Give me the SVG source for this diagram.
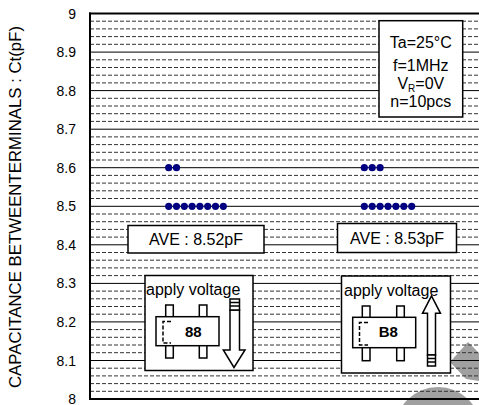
<svg xmlns="http://www.w3.org/2000/svg" width="479" height="405" viewBox="0 0 479 405">
<style>
text{font-family:"Liberation Sans",Arial,sans-serif;fill:#000}
.tick{font-size:14px;text-anchor:end}
.lbl{font-size:16px}
.mid{text-anchor:middle}
.solid{stroke:#000;stroke-width:1}
.dash{stroke:#333;stroke-width:1;stroke-dasharray:4 2}
.box{fill:#fff;stroke:#000;stroke-width:1.5}
.dot{fill:#000080}
.wm{fill:#a0a0a0}
.pkg{fill:#fff;stroke:#000;stroke-width:1.5}
</style>
<rect width="479" height="405" fill="#fff"/>
<g id="watermark">
<polygon class="wm" points="450,362 468,342 479,353 479,381 466,379"/>
<circle class="wm" cx="438" cy="430" r="43"/>
</g>
<g id="grid">
<g class="dash">
<line x1="90" x2="479" y1="21.2" y2="21.2"/><line x1="90" x2="479" y1="28.9" y2="28.9"/><line x1="90" x2="479" y1="36.6" y2="36.6"/><line x1="90" x2="479" y1="44.3" y2="44.3"/>
<line x1="90" x2="479" y1="59.8" y2="59.8"/><line x1="90" x2="479" y1="67.5" y2="67.5"/><line x1="90" x2="479" y1="75.2" y2="75.2"/><line x1="90" x2="479" y1="82.9" y2="82.9"/>
<line x1="90" x2="479" y1="98.3" y2="98.3"/><line x1="90" x2="479" y1="106" y2="106"/><line x1="90" x2="479" y1="113.7" y2="113.7"/><line x1="90" x2="479" y1="121.4" y2="121.4"/>
<line x1="90" x2="479" y1="136.9" y2="136.9"/><line x1="90" x2="479" y1="144.6" y2="144.6"/><line x1="90" x2="479" y1="152.3" y2="152.3"/><line x1="90" x2="479" y1="160" y2="160"/>
<line x1="90" x2="479" y1="175.4" y2="175.4"/><line x1="90" x2="479" y1="183.1" y2="183.1"/><line x1="90" x2="479" y1="190.8" y2="190.8"/><line x1="90" x2="479" y1="198.5" y2="198.5"/>
<line x1="90" x2="479" y1="214" y2="214"/><line x1="90" x2="479" y1="221.7" y2="221.7"/><line x1="90" x2="479" y1="229.4" y2="229.4"/><line x1="90" x2="479" y1="237.1" y2="237.1"/>
<line x1="90" x2="479" y1="252.5" y2="252.5"/><line x1="90" x2="479" y1="260.2" y2="260.2"/><line x1="90" x2="479" y1="267.9" y2="267.9"/><line x1="90" x2="479" y1="275.6" y2="275.6"/>
<line x1="90" x2="479" y1="291.1" y2="291.1"/><line x1="90" x2="479" y1="298.8" y2="298.8"/><line x1="90" x2="479" y1="306.5" y2="306.5"/><line x1="90" x2="479" y1="314.2" y2="314.2"/>
<line x1="90" x2="479" y1="329.6" y2="329.6"/><line x1="90" x2="479" y1="337.3" y2="337.3"/><line x1="90" x2="479" y1="345" y2="345"/><line x1="90" x2="479" y1="352.7" y2="352.7"/>
<line x1="90" x2="479" y1="368.2" y2="368.2"/><line x1="90" x2="479" y1="375.9" y2="375.9"/><line x1="90" x2="479" y1="383.6" y2="383.6"/><line x1="90" x2="479" y1="391.3" y2="391.3"/>
</g>
<g class="solid">
<line x1="90" x2="479" y1="52.1" y2="52.1"/><line x1="90" x2="479" y1="90.6" y2="90.6"/><line x1="90" x2="479" y1="129.2" y2="129.2"/><line x1="90" x2="479" y1="167.7" y2="167.7"/><line x1="90" x2="479" y1="206.3" y2="206.3"/><line x1="90" x2="479" y1="244.8" y2="244.8"/><line x1="90" x2="479" y1="283.4" y2="283.4"/><line x1="90" x2="479" y1="321.9" y2="321.9"/><line x1="90" x2="479" y1="360.5" y2="360.5"/>
</g>
</g>
<g id="axes">
<line x1="90" y1="12.5" x2="90" y2="400" stroke="#000" stroke-width="2"/>
<line x1="89" y1="13.5" x2="479" y2="13.5" stroke="#000" stroke-width="2"/>
<line x1="89" y1="399" x2="479" y2="399" stroke="#000" stroke-width="2"/>
<g class="tick">
<text x="76" y="18.5">9</text><text x="76" y="57">8.9</text><text x="76" y="95.6">8.8</text><text x="76" y="134.2">8.7</text><text x="76" y="172.7">8.6</text><text x="76" y="211.3">8.5</text><text x="76" y="249.8">8.4</text><text x="76" y="288.4">8.3</text><text x="76" y="326.9">8.2</text><text x="76" y="365.5">8.1</text><text x="76" y="404">8</text>
</g>
<text transform="translate(21,207) rotate(-90)" font-size="16.8" text-anchor="middle" fill="#222">CAPACITANCE BETWEENTERMINALS : Ct(pF)</text>
</g>
<g id="data">
<circle class="dot" cx="168.7" cy="167.7" r="3.6"/><circle class="dot" cx="176.5" cy="167.7" r="3.6"/>
<circle class="dot" cx="168.7" cy="206.3" r="3.6"/><circle class="dot" cx="176.5" cy="206.3" r="3.6"/><circle class="dot" cx="184.3" cy="206.3" r="3.6"/><circle class="dot" cx="192.1" cy="206.3" r="3.6"/><circle class="dot" cx="199.9" cy="206.3" r="3.6"/><circle class="dot" cx="207.7" cy="206.3" r="3.6"/><circle class="dot" cx="215.5" cy="206.3" r="3.6"/><circle class="dot" cx="223.3" cy="206.3" r="3.6"/>
<circle class="dot" cx="364.3" cy="167.7" r="3.6"/><circle class="dot" cx="372.2" cy="167.7" r="3.6"/><circle class="dot" cx="380.1" cy="167.7" r="3.6"/>
<circle class="dot" cx="364.3" cy="206.3" r="3.6"/><circle class="dot" cx="372.2" cy="206.3" r="3.6"/><circle class="dot" cx="380.1" cy="206.3" r="3.6"/><circle class="dot" cx="388" cy="206.3" r="3.6"/><circle class="dot" cx="395.9" cy="206.3" r="3.6"/><circle class="dot" cx="403.8" cy="206.3" r="3.6"/><circle class="dot" cx="411.7" cy="206.3" r="3.6"/>
</g>
<g id="conditions">
<rect class="box" x="379" y="20.7" width="83.7" height="96.3"/>
<text class="lbl mid" x="420.8" y="48.3">Ta=25°C</text>
<text class="lbl mid" x="420.8" y="70.7">f=1MHz</text>
<text class="lbl mid" x="420.8" y="89">V<tspan font-size="10" dy="2.5">R</tspan><tspan dy="-2.5">=0V</tspan></text>
<text class="lbl mid" x="420.8" y="107">n=10pcs</text>
</g>
<g id="ave-left">
<rect class="box" x="128" y="225.5" width="136" height="27.5"/>
<text class="lbl mid" x="196" y="244.5">AVE : 8.52pF</text>
</g>
<g id="ave-right">
<rect class="box" x="337.5" y="223.5" width="119" height="29"/>
<text class="lbl mid" x="397" y="244.3">AVE : 8.53pF</text>
</g>
<g id="apply-left">
<rect class="box" x="145" y="275.5" width="108" height="95"/>
<text class="lbl" x="146" y="294.5">apply voltage</text>
<rect class="pkg" x="165.7" y="305" width="7.6" height="53"/>
<rect class="pkg" x="199.3" y="305" width="7.6" height="53"/>
<rect class="pkg" x="156" y="316.7" width="63" height="29"/>
<path d="M171,321.5 H163 V343 H171" fill="none" stroke="#000" stroke-width="1.5" stroke-dasharray="4 2"/>
<text x="193.3" y="336.7" font-size="15" font-weight="bold" text-anchor="middle">88</text>
<polygon class="pkg" points="230,310 230,350 223.3,350 234,367.5 245,350 239.5,350 239.5,310"/>
<rect class="pkg" x="230" y="299" width="9.5" height="11"/>
<line x1="230" x2="239.5" y1="302.5" y2="302.5" stroke="#000" stroke-width="1.5"/>
<line x1="230" x2="239.5" y1="306" y2="306" stroke="#000" stroke-width="1.5"/>
</g>
<g id="apply-right">
<rect class="box" x="341.5" y="276" width="109" height="97"/>
<text class="lbl" x="344" y="295.5">apply voltage</text>
<rect class="pkg" x="362.3" y="306" width="7.7" height="54.7"/>
<rect class="pkg" x="396.7" y="306" width="7.6" height="54.7"/>
<rect class="pkg" x="352.7" y="317.3" width="63" height="30.4"/>
<path d="M368,322.5 H359.5 V345 H368" fill="none" stroke="#000" stroke-width="1.5" stroke-dasharray="4 2"/>
<text x="388.3" y="337" font-size="15" font-weight="bold" text-anchor="middle">B8</text>
<polygon class="pkg" points="427.5,355 427.5,313.3 422.5,313.3 431.5,296 440.5,313.3 435.5,313.3 435.5,355"/>
<rect class="pkg" x="427.5" y="355" width="8" height="11"/>
<line x1="427.5" x2="435.5" y1="358.5" y2="358.5" stroke="#000" stroke-width="1.5"/>
<line x1="427.5" x2="435.5" y1="362" y2="362" stroke="#000" stroke-width="1.5"/>
</g>
<g id="connectors"/>
</svg>
